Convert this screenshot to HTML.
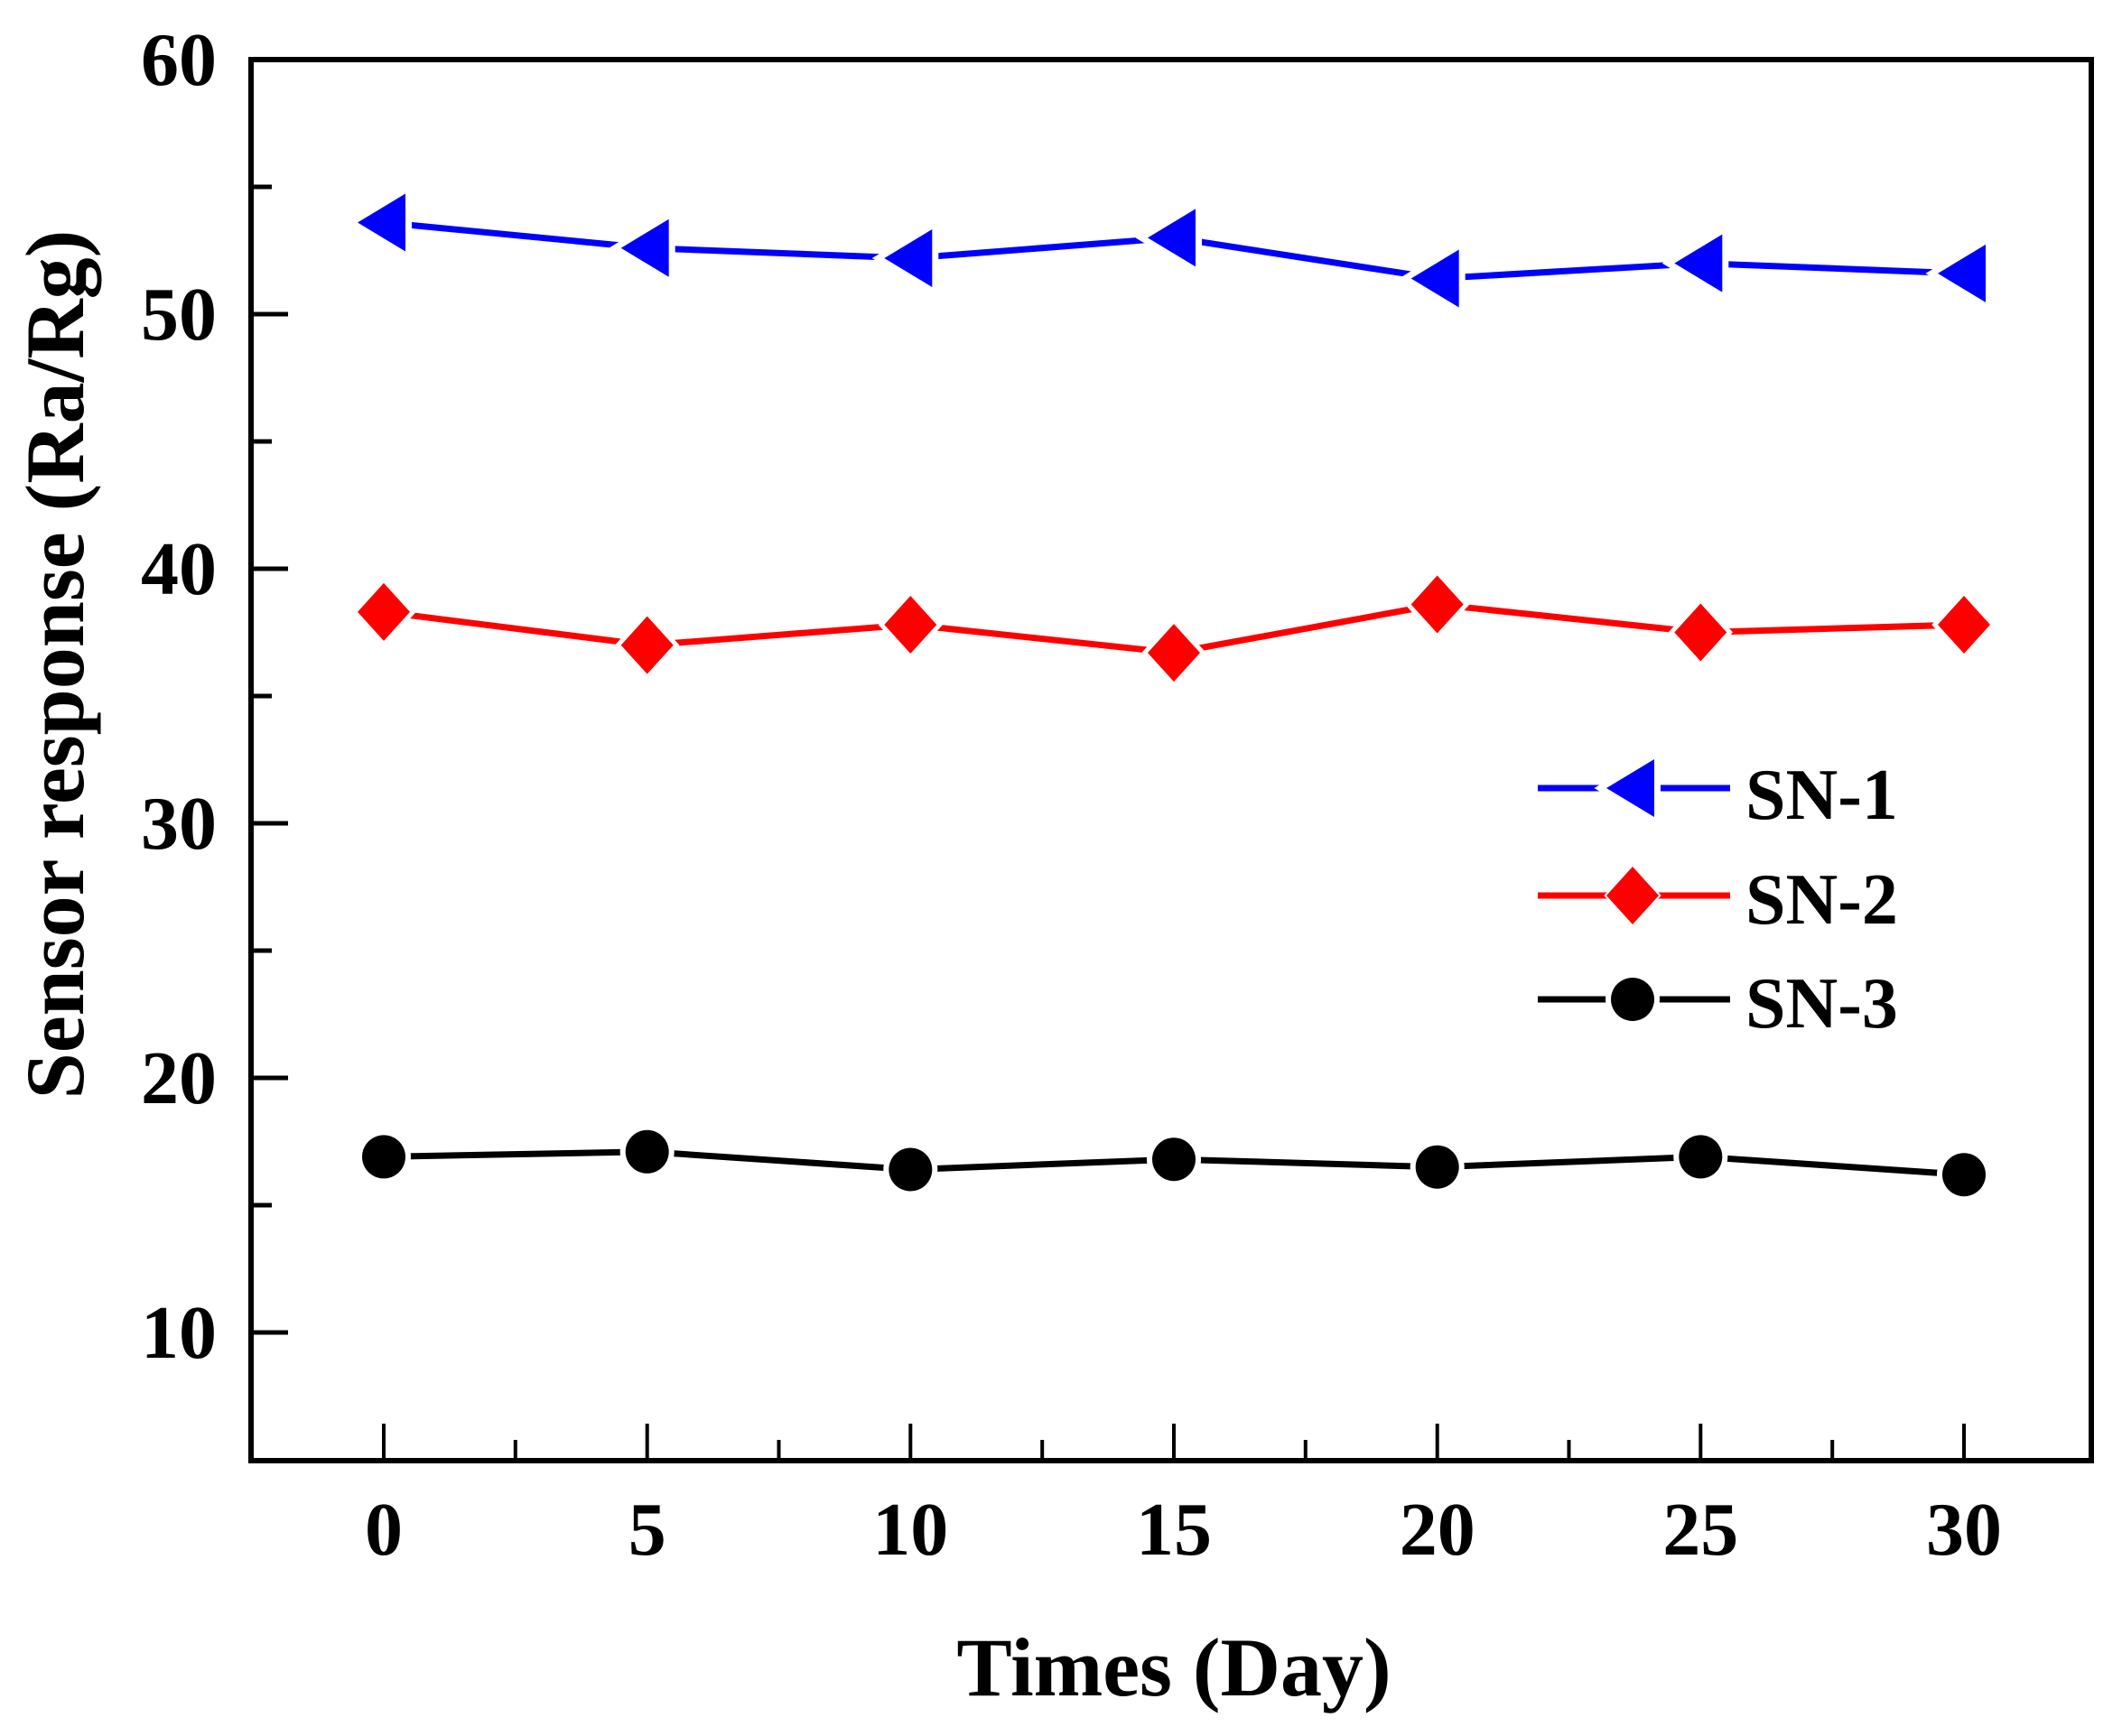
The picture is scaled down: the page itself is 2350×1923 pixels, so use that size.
<!DOCTYPE html>
<html><head><meta charset="utf-8"><style>html,body{margin:0;padding:0;background:#fff}svg{display:block}</style></head>
<body>
<svg width="2350" height="1923" viewBox="0 0 2350 1923" xmlns="http://www.w3.org/2000/svg" font-family="Liberation Serif, serif" font-weight="bold">
<rect width="2350" height="1923" fill="#fff"/>
<g stroke="#000" stroke-width="5">
<line x1="278" y1="66" x2="319" y2="66"/><line x1="278" y1="348" x2="319" y2="348"/><line x1="278" y1="630" x2="319" y2="630"/><line x1="278" y1="912" x2="319" y2="912"/><line x1="278" y1="1194" x2="319" y2="1194"/><line x1="278" y1="1476" x2="319" y2="1476"/>
<line x1="278" y1="207" x2="301" y2="207"/><line x1="278" y1="489" x2="301" y2="489"/><line x1="278" y1="771" x2="301" y2="771"/><line x1="278" y1="1053" x2="301" y2="1053"/><line x1="278" y1="1335" x2="301" y2="1335"/>
</g>
<g stroke="#000" stroke-width="4">
<line x1="425" y1="1618" x2="425" y2="1577"/><line x1="716.7" y1="1618" x2="716.7" y2="1577"/><line x1="1008.3" y1="1618" x2="1008.3" y2="1577"/><line x1="1300" y1="1618" x2="1300" y2="1577"/><line x1="1591.7" y1="1618" x2="1591.7" y2="1577"/><line x1="1883.3" y1="1618" x2="1883.3" y2="1577"/><line x1="2175" y1="1618" x2="2175" y2="1577"/>
<line x1="570.8" y1="1618" x2="570.8" y2="1595"/><line x1="862.5" y1="1618" x2="862.5" y2="1595"/><line x1="1154.2" y1="1618" x2="1154.2" y2="1595"/><line x1="1445.8" y1="1618" x2="1445.8" y2="1595"/><line x1="1737.5" y1="1618" x2="1737.5" y2="1595"/><line x1="2029.2" y1="1618" x2="2029.2" y2="1595"/>
</g>
<rect x="278" y="66" width="2038" height="1552" fill="none" stroke="#000" stroke-width="6"/>
<g font-size="84" text-anchor="end">
<text x="240" y="94">60</text><text x="240" y="376">50</text><text x="240" y="658">40</text><text x="240" y="940">30</text><text x="240" y="1222">20</text><text x="240" y="1504">10</text>
</g>
<g font-size="84" text-anchor="middle">
<text x="425" y="1722">0</text><text x="716.7" y="1722">5</text><text x="1008.3" y="1722">10</text><text x="1300" y="1722">15</text><text x="1591.7" y="1722">20</text><text x="1883.3" y="1722">25</text><text x="2175" y="1722">30</text>
</g>
<text x="1300" y="1878" font-size="92" text-anchor="middle">Times (Day)</text>
<text transform="translate(92,736) rotate(-90)" font-size="92" text-anchor="middle">Sensor response (Ra/Rg)</text>
<polyline fill="none" stroke="#0000ff" stroke-width="7" points="425,246.5 716.7,274.7 1008.3,286 1300,263.4 1591.7,308.5 1883.3,291.6 2175,302.9"/>
<polyline fill="none" stroke="#ff0000" stroke-width="7" points="425,677.9 716.7,714.6 1008.3,692 1300,723.1 1591.7,669.5 1883.3,700.5 2175,692"/>
<polyline fill="none" stroke="#000" stroke-width="7" points="425,1281.4 716.7,1275.8 1008.3,1295.5 1300,1284.2 1591.7,1292.7 1883.3,1281.4 2175,1301.2"/>
<defs>
<path id="tri" d="M-29,0 L24,-32 L24,32 Z"/>
<path id="dia" d="M-29,0 L0,-32 L29,0 L0,32 Z"/>
</defs>
<g fill="#0000ff" stroke="#fff" stroke-width="14" paint-order="stroke">
<use href="#tri" x="425" y="246.5"/><use href="#tri" x="716.7" y="274.7"/><use href="#tri" x="1008.3" y="286"/><use href="#tri" x="1300" y="263.4"/><use href="#tri" x="1591.7" y="308.5"/><use href="#tri" x="1883.3" y="291.6"/><use href="#tri" x="2175" y="302.9"/>
</g>
<g fill="#ff0000" stroke="#fff" stroke-width="10" paint-order="stroke">
<use href="#dia" x="425" y="677.9"/><use href="#dia" x="716.7" y="714.6"/><use href="#dia" x="1008.3" y="692"/><use href="#dia" x="1300" y="723.1"/><use href="#dia" x="1591.7" y="669.5"/><use href="#dia" x="1883.3" y="700.5"/><use href="#dia" x="2175" y="692"/>
</g>
<g fill="#000" stroke="#fff" stroke-width="12" paint-order="stroke">
<circle cx="425" cy="1281.4" r="24"/><circle cx="716.7" cy="1275.8" r="24"/><circle cx="1008.3" cy="1295.5" r="24"/><circle cx="1300" cy="1284.2" r="24"/><circle cx="1591.7" cy="1292.7" r="24"/><circle cx="1883.3" cy="1281.4" r="24"/><circle cx="2175" cy="1301.2" r="24"/>
</g>
<line x1="1703" y1="873" x2="1916" y2="873" stroke="#0000ff" stroke-width="7"/>
<line x1="1703" y1="992" x2="1916" y2="992" stroke="#ff0000" stroke-width="7"/>
<line x1="1703" y1="1107" x2="1916" y2="1107" stroke="#000" stroke-width="7"/>
<use href="#tri" x="1808" y="873" fill="#0000ff" stroke="#fff" stroke-width="14" paint-order="stroke"/>
<use href="#dia" x="1808" y="992" fill="#ff0000" stroke="#fff" stroke-width="4" paint-order="stroke"/>
<circle cx="1808" cy="1107" r="24" fill="#000" stroke="#fff" stroke-width="12" paint-order="stroke"/>
<g font-size="80">
<text x="1933" y="907">SN-1</text><text x="1933" y="1023">SN-2</text><text x="1933" y="1138">SN-3</text>
</g>
</svg>
</body></html>
